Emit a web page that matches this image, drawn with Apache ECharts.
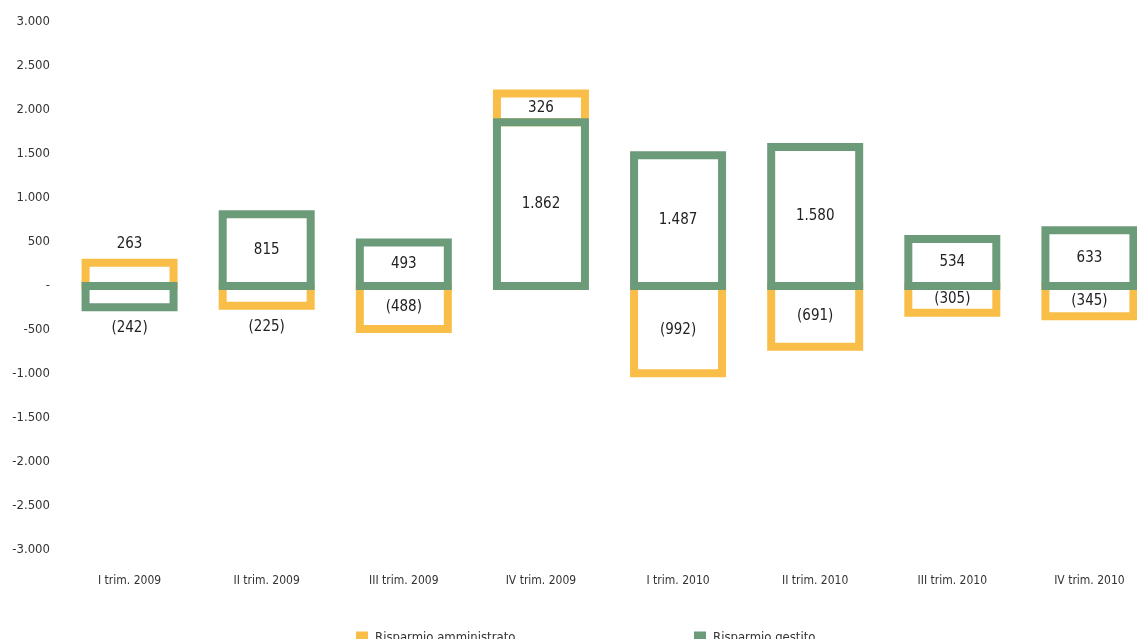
<!DOCTYPE html>
<html><head><meta charset="utf-8">
<script src="https://cdn.jsdelivr.net/npm/echarts@6/dist/echarts.min.js"></script>
<style>html,body{margin:0;padding:0;background:#fff;overflow:hidden;width:1137px;height:639px}#c{width:1160px;height:639px}</style>
</head><body><div id="c"></div>
<script>
const categories = ['I trim. 2009','II trim. 2009','III trim. 2009','IV trim. 2009','I trim. 2010','II trim. 2010','III trim. 2010','IV trim. 2010'];
const amministrato = [263, -225, -488, 326, -992, -691, -305, -345];
const gestito = [-242, 815, 493, 1862, 1487, 1580, 534, 633];
const yMin = -3000, yMax = 3000, yStep = 500;
// label placement per item (inside unless noted)
const amministratoLabelPos = ['top','bottom','inside','inside','inside','inside','inside','inside'];
const gestitoLabelPos = ['bottom','inside','inside','inside','inside','inside','inside','inside'];

const FONT = '"DejaVu Sans Condensed","DejaVu Sans",sans-serif';
const YELLOW = '#F9BE47', GREEN = '#6C9B7A';
const BW = 8;
function fmtNum(v){
  const a = Math.abs(v);
  const s = a.toString().replace(/\B(?=(\d{3})+(?!\d))/g,'.');
  return v < 0 ? '(' + s + ')' : s;
}
// stacked like a 'samesign' stack: gestito is the base, amministrato stacks on it when same sign
function makeRender(color, otherVals, isBase, pos){
  return function(params, api){
    const i = params.dataIndex;
    const v = api.value(1);
    let base = 0;
    if (!isBase && Math.sign(otherVals[i]) === Math.sign(v)) base = otherVals[i];
    const p0 = api.coord([i, base]);
    const p1 = api.coord([i, base + v]);
    const band = api.size([1, 0])[0];
    const outerW = band * 0.7;
    const x = p0[0] - outerW / 2 + BW / 2;
    const w = outerW - BW;
    const yTop = Math.min(p0[1], p1[1]);
    const yBot = Math.max(p0[1], p1[1]);
    let ty;
    if (pos[i] === 'top') ty = yTop - BW/2 - 15;
    else if (pos[i] === 'bottom') ty = yBot + BW/2 + 17;
    else ty = (yTop + yBot) / 2;
    return {
      type:'group',
      children:[
        {type:'rect', shape:{x:x, y:yTop, width:w, height:yBot - yTop},
         style:{fill:null, stroke:color, lineWidth:BW}},
        {type:'text', x:p0[0], y:ty, z2:10,
         style:{text:fmtNum(v), fill:'#222', font:'15px ' + FONT, align:'center', verticalAlign:'middle'}}
      ]
    };
  };
}
const chart = echarts.init(document.getElementById('c'), null, {renderer:'canvas'});
chart.setOption({
  animation:false,
  textStyle:{fontFamily:FONT},
  grid:{left:61, right:2, top:22, bottom:89, containLabel:false},
  legend:[
    {data:['Risparmio amministrato'], left:356, top:631, padding:0, itemWidth:12, itemHeight:12, icon:'rect', itemGap:0,
     textStyle:{fontFamily:FONT, fontSize:13, color:'#333', padding:[0,0,0,2]}},
    {data:['Risparmio gestito'], left:694, top:631, padding:0, itemWidth:12, itemHeight:12, icon:'rect', itemGap:0,
     textStyle:{fontFamily:FONT, fontSize:13, color:'#333', padding:[0,0,0,2]}}
  ],
  xAxis:{type:'category', data:categories,
    axisLine:{show:false}, axisTick:{show:false},
    axisLabel:{margin:25, fontSize:12, color:'#333', fontFamily:FONT}},
  yAxis:{type:'value', min:yMin, max:yMax, interval:yStep,
    axisLine:{show:false}, axisTick:{show:false}, splitLine:{show:false},
    axisLabel:{margin:11, fontSize:13, color:'#333', fontFamily:FONT,
      formatter:v=> v===0 ? '-' : (v<0?'-':'') + Math.abs(v).toString().replace(/\B(?=(\d{3})+(?!\d))/g,'.')}},
  series:[
    {name:'Risparmio gestito', type:'custom', z:3,
     data:gestito.map((v,i)=>[i,v]), encode:{x:0, y:1},
     itemStyle:{color:GREEN},
     renderItem:makeRender(GREEN, amministrato, true, gestitoLabelPos)},
    {name:'Risparmio amministrato', type:'custom', z:2,
     data:amministrato.map((v,i)=>[i,v]), encode:{x:0, y:1},
     itemStyle:{color:YELLOW},
     renderItem:makeRender(YELLOW, gestito, false, amministratoLabelPos)}
  ]
});
</script></body></html>
